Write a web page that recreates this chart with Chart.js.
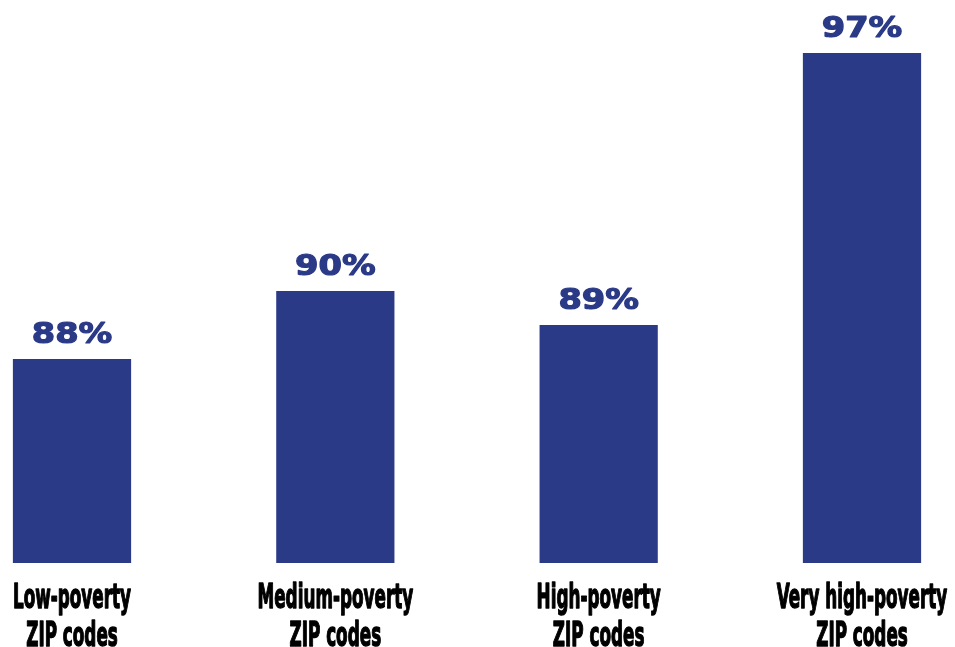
<!DOCTYPE html>
<html lang="en">
<head>
    <meta charset="UTF-8">
    <title>Poverty ZIP codes</title>
    <script src="https://cdn.jsdelivr.net/npm/chart.js"></script>
    <style>
        html, body {
            margin: 0;
            padding: 0;
            background: #ffffff;
        }

        .chart-box {
            width: 955px;
            height: 647px;
        }
    </style>
</head>
<body>
    <div class="chart-box">
        <canvas id="zipChart"></canvas>
    </div>
    <script>
        const categories = [
            ["Low-poverty", "ZIP codes"],
            ["Medium-poverty", "ZIP codes"],
            ["High-poverty", "ZIP codes"],
            ["Very high-poverty", "ZIP codes"]
        ];
        const shares = [88, 90, 89, 97];

        const barColor = "#2B3A87";

        // text squeezed or stretched sideways, centred on x
        function drawScaledText(ctx, text, x, y, sx) {
            ctx.save();
            ctx.translate(x, y);
            ctx.scale(sx, 1);
            ctx.strokeText(text, 0, 0);
            ctx.fillText(text, 0, 0);
            ctx.restore();
        }

        // percent labels above the bars, category names under the axis
        const barText = {
            id: "barText",
            afterDatasetsDraw(chart) {
                const ctx = chart.ctx;
                const meta = chart.getDatasetMeta(0);
                const xScale = chart.scales.x;
                ctx.save();
                ctx.textAlign = "center";
                ctx.textBaseline = "alphabetic";
                ctx.lineJoin = "round";

                ctx.font = "bold 29px 'DejaVu Sans'";
                ctx.fillStyle = barColor;
                ctx.strokeStyle = barColor;
                ctx.lineWidth = 1.2;
                meta.data.forEach((bar, i) => {
                    drawScaledText(ctx, shares[i] + "%", bar.x, bar.y - 16, 1.16);
                });

                ctx.font = "bold 34px 'DejaVu Sans Condensed', 'DejaVu Sans'";
                ctx.fillStyle = "#000000";
                ctx.strokeStyle = "#000000";
                ctx.lineWidth = 1.4;
                categories.forEach((lines, i) => {
                    const x = xScale.getPixelForTick(i);
                    lines.forEach((line, j) => {
                        drawScaledText(ctx, line, x, xScale.top + 45 + j * 38, 0.55);
                    });
                });
                ctx.restore();
            }
        };

        const ctx = document.getElementById("zipChart").getContext("2d");
        new Chart(ctx, {
            type: "bar",
            data: {
                labels: categories,
                datasets: [{
                    data: shares,
                    backgroundColor: barColor,
                    borderWidth: 0,
                    categoryPercentage: 1,
                    barPercentage: 0.449,
                    clip: { left: false, right: false, top: false, bottom: 0 }
                }]
            },
            options: {
                responsive: true,
                maintainAspectRatio: false,
                animation: false,
                layout: {
                    padding: { top: 19, left: 72, right: 93, bottom: 0 }
                },
                plugins: {
                    legend: { display: false },
                    tooltip: { enabled: false }
                },
                scales: {
                    x: {
                        offset: false,
                        grid: { display: false },
                        border: { display: false },
                        ticks: { display: false },
                        afterFit: (scale) => { scale.height = 84; }
                    },
                    y: {
                        display: false,
                        min: 82,
                        max: 98
                    }
                }
            },
            plugins: [barText]
        });
    </script>
</body>
</html>
